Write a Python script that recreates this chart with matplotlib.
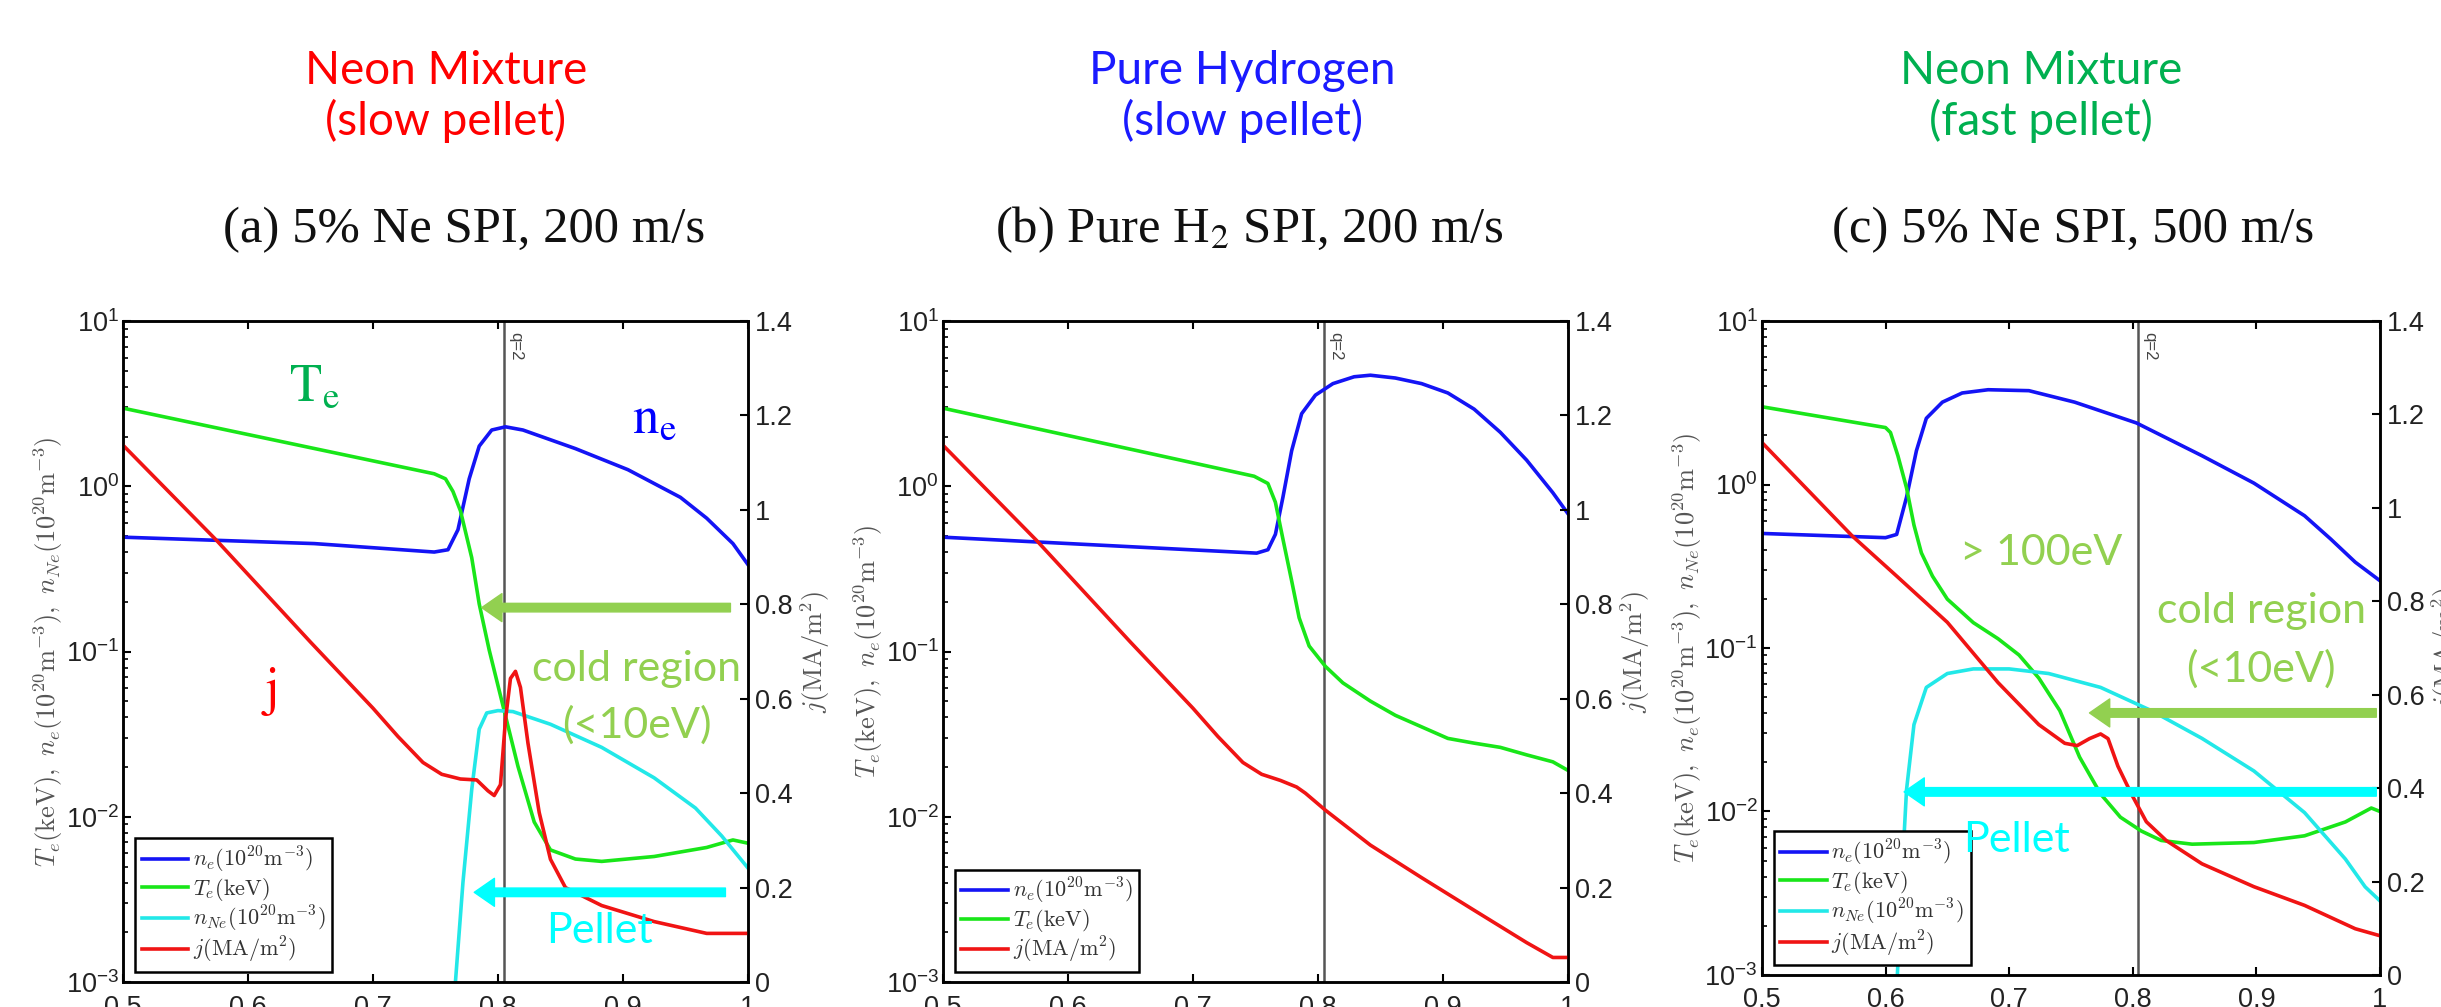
import matplotlib
matplotlib.use('Agg')
import matplotlib.pyplot as plt
from matplotlib.font_manager import FontProperties
from matplotlib.ticker import LogLocator, FuncFormatter, MultipleLocator, NullFormatter

# ---- panel (a): 5% Ne SPI, 200 m/s ----
rho_te_a = [0.5, 0.749, 0.758, 0.764, 0.770, 0.779, 0.785, 0.793, 0.804, 0.816, 0.829, 0.842,
            0.862, 0.883, 0.925, 0.967, 0.988, 1.0]
te_a = [2.97, 1.19, 1.11, 0.93, 0.71, 0.37, 0.194, 0.102, 0.047, 0.0202, 0.0093, 0.0063,
        0.00555, 0.00537, 0.00575, 0.00652, 0.00724, 0.00692]
rho_ne_a = [0.5, 0.653, 0.749, 0.76, 0.768, 0.777, 0.785, 0.795, 0.806, 0.82, 0.862, 0.904,
            0.946, 0.967, 0.988, 1.0]
ne_a = [0.492, 0.45, 0.40, 0.413, 0.546, 1.11, 1.75, 2.19, 2.29, 2.19, 1.69, 1.26,
        0.857, 0.641, 0.45, 0.336]
rho_nne_a = [0.765, 0.772, 0.779, 0.785, 0.791, 0.8, 0.812, 0.842, 0.883, 0.925, 0.958, 0.979, 1.0]
nne_a = [0.0008, 0.00402, 0.0146, 0.0339, 0.0425, 0.0439, 0.0433, 0.0363, 0.0263, 0.0172,
         0.0113, 0.00766, 0.0049]
rho_j_a = [0.5, 0.575, 0.65, 0.70, 0.72, 0.74, 0.755, 0.77, 0.783, 0.792, 0.797, 0.802, 0.806,
           0.81, 0.814, 0.818, 0.824, 0.833, 0.842, 0.854, 0.883, 0.925, 0.967, 1.0]
j_a = [1.137, 0.935, 0.72, 0.58, 0.52, 0.465, 0.44, 0.43, 0.428, 0.405, 0.395, 0.418, 0.555,
       0.643, 0.658, 0.624, 0.506, 0.359, 0.26, 0.2, 0.162, 0.128, 0.103, 0.103]

# ---- panel (b): pure H2 SPI, 200 m/s ----
rho_te_b = [0.5, 0.749, 0.76, 0.766, 0.772, 0.779, 0.785, 0.793, 0.806, 0.82, 0.842, 0.862,
            0.883, 0.904, 0.925, 0.946, 0.967, 0.988, 1.0]
te_b = [2.97, 1.15, 1.04, 0.80, 0.48, 0.268, 0.16, 0.108, 0.0813, 0.0646, 0.0501, 0.0411,
        0.035, 0.0298, 0.0279, 0.0263, 0.0237, 0.0215, 0.0191]
rho_ne_b = [0.5, 0.751, 0.76, 0.766, 0.772, 0.779, 0.787, 0.798, 0.812, 0.829, 0.842, 0.862,
            0.883, 0.904, 0.925, 0.946, 0.967, 0.988, 1.0]
ne_b = [0.492, 0.394, 0.413, 0.512, 0.857, 1.64, 2.75, 3.56, 4.18, 4.6, 4.7, 4.52, 4.18, 3.67,
        2.93, 2.12, 1.44, 0.914, 0.684]
rho_j_b = [0.5, 0.575, 0.65, 0.70, 0.72, 0.74, 0.755, 0.77, 0.783, 0.79, 0.806, 0.842, 0.883,
           0.925, 0.967, 0.988, 1.0]
j_b = [1.137, 0.935, 0.72, 0.58, 0.52, 0.465, 0.44, 0.427, 0.413, 0.40, 0.364, 0.29, 0.221,
       0.152, 0.0835, 0.052, 0.052]

# ---- panel (c): 5% Ne SPI, 500 m/s ----
rho_te_c = [0.5, 0.6, 0.604, 0.61, 0.617, 0.623, 0.629, 0.638, 0.65, 0.671, 0.691, 0.708, 0.724,
            0.741, 0.757, 0.774, 0.79, 0.807, 0.823, 0.848, 0.898, 0.939, 0.972, 0.993, 1.0]
te_c = [2.99, 2.23, 2.08, 1.50, 0.953, 0.565, 0.382, 0.275, 0.199, 0.143, 0.114, 0.0906, 0.0655,
        0.0414, 0.0215, 0.0128, 0.00923, 0.00759, 0.00665, 0.00631, 0.00646, 0.0071, 0.00863,
        0.0105, 0.01]
rho_ne_c = [0.5, 0.6, 0.609, 0.617, 0.625, 0.633, 0.646, 0.662, 0.683, 0.716, 0.753, 0.803,
            0.856, 0.898, 0.939, 0.96, 0.98, 1.0]
ne_c = [0.502, 0.473, 0.495, 0.836, 1.61, 2.54, 3.19, 3.63, 3.8, 3.75, 3.19, 2.38, 1.5, 1.02,
        0.644, 0.465, 0.335, 0.258]
rho_nne_c = [0.609, 0.613, 0.617, 0.623, 0.633, 0.65, 0.671, 0.7, 0.732, 0.774, 0.815, 0.856,
             0.898, 0.939, 0.972, 0.988, 1.0]
nne_c = [0.0008, 0.00369, 0.0136, 0.034, 0.0574, 0.0698, 0.0745, 0.0745, 0.0698, 0.0574, 0.0414,
         0.028, 0.0177, 0.00984, 0.00512, 0.00346, 0.00284]
rho_j_c = [0.5, 0.573, 0.609, 0.65, 0.691, 0.724, 0.745, 0.755, 0.765, 0.774, 0.78, 0.788, 0.799,
           0.811, 0.827, 0.856, 0.898, 0.939, 0.98, 1.0]
j_c = [1.14, 0.94, 0.854, 0.755, 0.626, 0.536, 0.496, 0.491, 0.506, 0.516, 0.506, 0.447, 0.387,
       0.328, 0.288, 0.238, 0.189, 0.149, 0.099, 0.084]

q2_rho = [0.805, 0.805, 0.804]

top_titles = ['Neon Mixture\n(slow pellet)', 'Pure Hydrogen\n(slow pellet)', 'Neon Mixture\n(fast pellet)']
top_colors = ['#ff0000', '#1a1aff', '#00b050']
sub_titles = ['(a) 5% Ne SPI, 200 m/s', '(b) Pure H$_2$ SPI, 200 m/s', '(c) 5% Ne SPI, 500 m/s']

C_NE, C_TE, C_NNE, C_J = '#1414f5', '#19e619', '#22e8e8', '#f01414'
C_COLD, C_PEL = '#92d050', '#00ffff'

plt.rcParams['font.family'] = ['Liberation Sans', 'DejaVu Sans']
plt.rcParams['axes.unicode_minus'] = False
plt.rcParams['mathtext.fontset'] = 'cm'

LBL_NE = r'$n_e(10^{20}\mathrm{m}^{-3})$'
LBL_TE = r'$T_e(\mathrm{keV})$'
LBL_NNE = r'$n_{Ne}(10^{20}\mathrm{m}^{-3})$'
LBL_J = r'$j(\mathrm{MA/m}^2)$'
LW = 2.6
TICK_FS = 19.5


def setup_axes(ax, ax2, q2, ylabel, leg_handles):
    ax.set_yscale('log')
    ax.set_xlim(0.5, 1.0)
    ax.set_ylim(1e-3, 1e1)
    ax2.set_ylim(0, 1.4)
    ax.xaxis.set_major_locator(MultipleLocator(0.1))
    ax.xaxis.set_major_formatter(FuncFormatter(lambda v, p: f'{v:g}'))
    ax.yaxis.set_major_locator(LogLocator(base=10, numticks=10))
    ax.yaxis.set_minor_locator(LogLocator(base=10, subs=range(2, 10), numticks=10))
    ax.yaxis.set_minor_formatter(NullFormatter())
    ax2.yaxis.set_major_locator(MultipleLocator(0.2))
    ax2.yaxis.set_major_formatter(FuncFormatter(lambda v, p: f'{v:g}'))
    ax.tick_params(axis='x', which='both', direction='in', top=True, length=6, width=1.5,
                   labelsize=TICK_FS, pad=9, labelcolor='#222222')
    ax.tick_params(axis='y', which='major', direction='in', right=False, length=6, width=1.5,
                   labelsize=TICK_FS, pad=3, labelcolor='#222222')
    ax.tick_params(axis='y', which='minor', direction='in', right=False, length=3.5, width=1.2)
    ax2.tick_params(axis='y', direction='in', length=6, width=1.5, labelsize=TICK_FS, pad=5,
                    labelcolor='#222222')
    for a in (ax, ax2):
        for s in a.spines.values():
            s.set_linewidth(1.8)
    ax.axvline(q2, color='#555555', lw=1.8, zorder=1)
    ax.annotate('q=2', xy=(q2, 1), xycoords=('data', 'axes fraction'), xytext=(3, -8),
                textcoords='offset points', rotation=-90, ha='left', va='top', fontsize=12,
                color='#444444')
    ax.set_ylabel(ylabel, fontsize=19, color='#555555')
    ax.yaxis.set_label_coords(-0.093, 0.5)
    ax2.set_ylabel(LBL_J, fontsize=19, color='#555555')
    ax2.yaxis.set_label_coords(1.08, 0.5)
    leg = ax2.legend(handles=leg_handles, loc='lower left', bbox_to_anchor=(0.019, 0.015),
                     borderaxespad=0, fancybox=False, framealpha=1, edgecolor='black',
                     prop=FontProperties(size=16), handlelength=2.1, handletextpad=0.2,
                     labelspacing=0.05, borderpad=0.3, labelcolor='#333333')
    leg.get_frame().set_linewidth(1.8)


def arrow(ax2, x_tail, x_tip, y, color):
    ax2.annotate('', xy=(x_tip, y), xytext=(x_tail, y),
                 arrowprops=dict(arrowstyle='simple,head_length=0.52,head_width=0.72,tail_width=0.22',
                                 color=color, shrinkA=0, shrinkB=0, mutation_scale=28),
                 annotation_clip=False, zorder=6)


def draw_panel(fig, rect, rho_ne, ne, rho_te, te, rho_j, j, q2, rho_nne=None, nne=None):
    ax = fig.add_axes(rect)
    ax2 = ax.twinx()
    h_ne, = ax.plot(rho_ne, ne, color=C_NE, lw=LW, label=LBL_NE)
    h_te, = ax.plot(rho_te, te, color=C_TE, lw=LW, label=LBL_TE)
    handles = [h_ne, h_te]
    if nne is not None:
        h_nne, = ax.plot(rho_nne, nne, color=C_NNE, lw=LW, label=LBL_NNE)
        handles.append(h_nne)
    h_j, = ax2.plot(rho_j, j, color=C_J, lw=LW, label=LBL_J)
    handles.append(h_j)
    if nne is not None:
        ylabel = r'$T_e(\mathrm{keV}),\ n_e(10^{20}\mathrm{m}^{-3}),\ n_{Ne}(10^{20}\mathrm{m}^{-3})$'
    else:
        ylabel = r'$T_e(\mathrm{keV}),\ n_e(10^{20}\mathrm{m}^{-3})$'
    setup_axes(ax, ax2, q2, ylabel, handles)
    return ax, ax2


def main():
    fig = plt.figure(figsize=(24.41, 10.07), dpi=100)
    fig.patch.set_facecolor('white')

    ax_a, ax2_a = draw_panel(fig, [0.0504, 0.0248, 0.2560, 0.6564], rho_ne_a, ne_a, rho_te_a, te_a,
                             rho_j_a, j_a, q2_rho[0], rho_nne_a, nne_a)
    ax_b, ax2_b = draw_panel(fig, [0.3863, 0.0248, 0.2560, 0.6564], rho_ne_b, ne_b, rho_te_b, te_b,
                             rho_j_b, j_b, q2_rho[1])
    ax_c, ax2_c = draw_panel(fig, [0.7218, 0.0318, 0.2532, 0.6494], rho_ne_c, ne_c, rho_te_c, te_c,
                             rho_j_c, j_c, q2_rho[2], rho_nne_c, nne_c)

    # annotations, panel (a)
    ax_a.text(0.653, 4.0, r'$\mathrm{T_e}$', color='#00b050', fontsize=38, ha='center', va='center',
              math_fontfamily='stix')
    ax_a.text(0.925, 2.57, r'$\mathrm{n_e}$', color='#0000ff', fontsize=38, ha='center', va='center',
              math_fontfamily='stix')
    ax_a.text(0.617, 0.057, r'$\mathrm{j}$', color='#ff0000', fontsize=38, ha='center', va='center',
              math_fontfamily='stix')
    arrow(ax2_a, 0.986, 0.787, 0.793, C_COLD)
    arrow(ax2_a, 0.982, 0.781, 0.19, C_PEL)
    ax2_a.text(0.911, 0.663, 'cold region', color=C_COLD, fontsize=31, family='Lato',
               ha='center', va='center', zorder=7)
    ax2_a.text(0.911, 0.545, '(<10eV)', color=C_COLD, fontsize=31, family='Lato',
               ha='center', va='center', zorder=7)
    ax2_a.text(0.881, 0.108, 'Pellet', color=C_PEL, fontsize=31, family='Lato',
               ha='center', va='center', zorder=7)

    # annotations, panel (c)
    arrow(ax2_c, 0.997, 0.765, 0.561, C_COLD)
    arrow(ax2_c, 0.997, 0.615, 0.392, C_PEL)
    ax2_c.text(0.726, 0.904, '> 100eV', color=C_COLD, fontsize=31, family='Lato',
               ha='center', va='center', zorder=7)
    ax2_c.text(0.904, 0.779, 'cold region', color=C_COLD, fontsize=31, family='Lato',
               ha='center', va='center', zorder=7)
    ax2_c.text(0.904, 0.655, '(<10eV)', color=C_COLD, fontsize=31, family='Lato',
               ha='center', va='center', zorder=7)
    ax2_c.text(0.706, 0.288, 'Pellet', color=C_PEL, fontsize=31, family='Lato',
               ha='center', va='center', zorder=7)

    # headings above the panels
    for xc, txt, col in zip([0.1827, 0.5090, 0.8361], top_titles, top_colors):
        fig.text(xc, 0.904, txt, color=col, fontsize=33, family='Lato', ha='center', va='center',
                 linespacing=1.2)
    for xc, txt in zip([0.1901, 0.5117, 0.8492], sub_titles):
        fig.text(xc, 0.7716, txt, color='#111111', fontsize=36.5, family='Liberation Serif',
                 ha='center', va='center', math_fontfamily='stix')

    fig.savefig('out.png', dpi=100, facecolor='white')


if __name__ == '__main__':
    main()
